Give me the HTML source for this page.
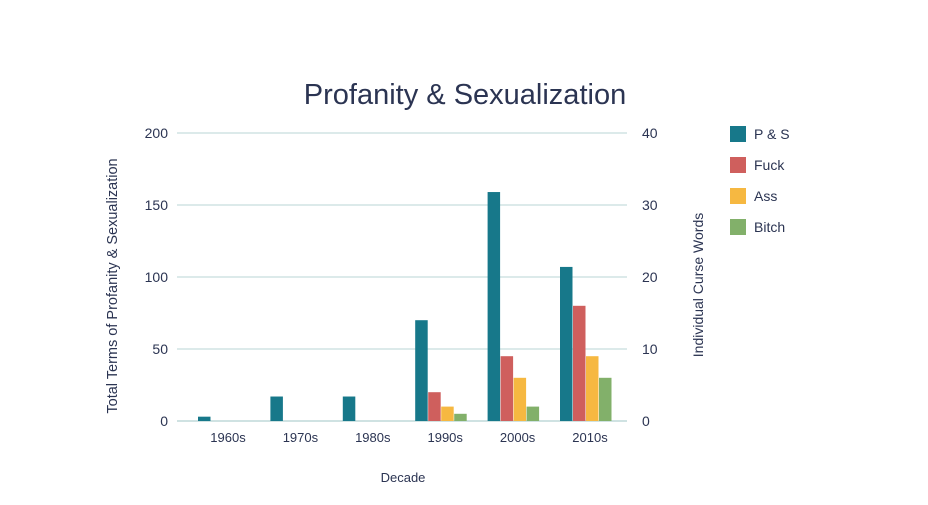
<!DOCTYPE html>
<html><head><meta charset="utf-8"><style>
body{margin:0;background:#fff;width:928px;height:500px;overflow:hidden}
text{font-family:"Liberation Sans",sans-serif;fill:#2b3452}
</style></head><body>
<svg id="chart" width="928" height="500">
<text x="465" y="104" text-anchor="middle" font-size="29">Profanity &amp; Sexualization</text>
<g id="grid"></g><g id="bars"></g><g id="axes"></g>
<text transform="translate(117,286) rotate(-90)" text-anchor="middle" font-size="14.5">Total Terms of Profanity &amp; Sexualization</text>
<text transform="translate(703,285) rotate(-90)" text-anchor="middle" font-size="14">Individual Curse Words</text>
<text x="403" y="482" text-anchor="middle" font-size="13">Decade</text>
<g id="legend"></g>
</svg>
<script>
const categories=["1960s","1970s","1980s","1990s","2000s","2010s"];
const psValues=[3,17,17,70,159,107];
const fuckValues=[0,0,0,4,9,16];
const assValues=[0,0,0,2,6,9];
const bitchValues=[0,0,0,1,2,6];
const leftTicks=[0,50,100,150,200];
const rightTicks=[0,10,20,30,40];
const seriesNames=["P & S","Fuck","Ass","Bitch"];
const NS="http://www.w3.org/2000/svg";
const x0=177,x1=627,y0=421,y1=133;
const yL=v=>y0-(v/200)*(y0-y1);
const yR=v=>y0-(v/40)*(y0-y1);
const band=72.4;
const colors=["#17788a","#cf5f5d","#f6b841","#82b06a"];
function mk(tag,attrs,parent){const e=document.createElementNS(NS,tag);for(const k in attrs)e.setAttribute(k,attrs[k]);document.getElementById(parent).appendChild(e);return e;}
leftTicks.forEach((t,i)=>{
 const l=mk("line",{x1:x0,x2:x1,y1:yL(t),y2:yL(t),stroke:i==0?"#9fc4c4":"#b9d6d6","stroke-width":1},"grid");
 
 
 const tx=mk("text",{x:168,y:yL(t)+5,"text-anchor":"end","font-size":14},"axes");tx.textContent=t;
 
 
});
rightTicks.forEach(t=>{
 const tx=mk("text",{x:642,y:yR(t)+5,"font-size":14},"axes");tx.textContent=t;
 
 
});
const bw=13;
categories.forEach((c,i)=>{
 const bx=198+i*band;
 const vals=[[psValues[i],yL],[fuckValues[i],yR],[assValues[i],yR],[bitchValues[i],yR]];
 vals.forEach((v,j)=>{
  if(v[0]<=0)return;
  const y=v[1](v[0]);
  const r=mk("rect",{x:bx+j*bw,y:y,width:bw-0.5,height:y0-y,fill:colors[j]},"bars");
  
  
 });
 const tx=mk("text",{x:bx+30,y:442,"text-anchor":"middle","font-size":13},"axes");tx.textContent=c;
 
 
});
seriesNames.forEach((n,j)=>{
 const y=126+j*31;
 const r=mk("rect",{x:730,y:y,width:16,height:16,fill:colors[j]},"legend");
 
 
 const tx=mk("text",{x:754,y:y+13,"font-size":14},"legend");tx.textContent=n;
 
 
});
</script>
</body></html>
